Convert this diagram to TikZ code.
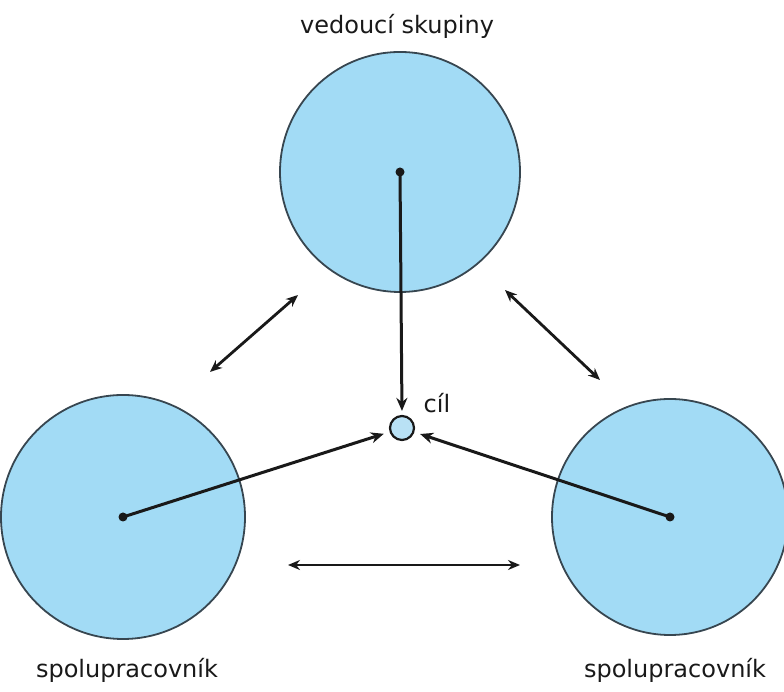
\documentclass[tikz,border=0pt]{standalone}
\usepackage{fontspec}
\setmainfont{DejaVu Sans}
\usetikzlibrary{arrows.meta}
\definecolor{discfill}{RGB}{162,219,245}
\definecolor{goalfill}{RGB}{185,225,245}
\definecolor{rimcol}{RGB}{55,70,80}
\definecolor{inkcol}{RGB}{25,25,25}
\tikzset{
  disc/.style={circle,draw=rimcol,line width=1.8pt,fill=discfill,inner sep=0pt},
  goaldisc/.style={circle,draw=inkcol,line width=2.2pt,fill=goalfill,inner sep=0pt,minimum size=24pt},
  centerdot/.style={circle,fill=inkcol,inner sep=0pt,minimum size=9pt},
  lbl/.style={font=\fontsize{24}{28}\selectfont,text=inkcol},
  onearrow/.style={draw=inkcol,line width=3pt,-{Stealth[length=13pt,width=11pt]}},
  twoarrow/.style={draw=inkcol,line width=2.8pt,{Stealth[length=12pt,width=10pt]}-{Stealth[length=12pt,width=10pt]}}
}
\begin{document}
\begin{tikzpicture}[x=1pt,y=1pt]
\useasboundingbox (0,0) rectangle (784,692);
% big discs
\node[disc,minimum size=240pt] (leader) at (400,520) {};
\node[disc,minimum size=244pt] (peerL) at (123,175) {};
\node[disc,minimum size=236pt] (peerR) at (670,175) {};
% goal
\node[goaldisc] (goal) at (402,264) {};
\node[lbl,anchor=center] (goallbl) at (437,289) {cíl};
% center dots
\node[centerdot] (dotT) at (400,520) {};
\node[centerdot] (dotL) at (123,175) {};
\node[centerdot] (dotR) at (670,175) {};
% labels
\node[lbl] (lblT) at (397,666) {vedoucí skupiny};
\node[lbl] (lblL) at (127,22) {spolupracovník};
\node[lbl] (lblR) at (675,22) {spolupracovník};
% arrows to goal
\draw[onearrow,shorten >=4pt] (dotT.center) -- (goal.north);
\draw[onearrow,shorten >=6pt] (dotL.center) -- (goal);
\draw[onearrow,shorten >=6pt] (dotR.center) -- (goal);
% double arrows
\coordinate (a1) at (298,397);
\coordinate (a2) at (210,320);
\coordinate (b1) at (505,402);
\coordinate (b2) at (600,312);
\coordinate (c1) at (288,127);
\coordinate (c2) at (520,127);
\draw[twoarrow] (a1) -- (a2);
\draw[twoarrow] (b1) -- (b2);
\draw[twoarrow] (c1) -- (c2);
\end{tikzpicture}
\end{document}
